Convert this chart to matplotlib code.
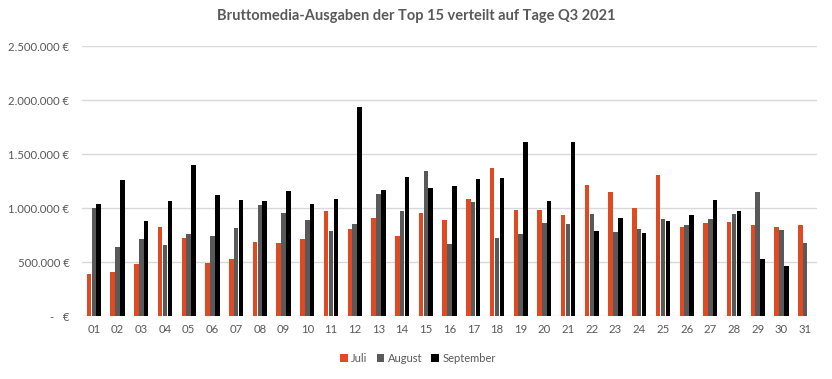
import matplotlib
matplotlib.use('Agg')
import matplotlib.pyplot as plt
import numpy as np

# Tage 01..31
days = [f"{d:02d}" for d in range(1, 32)]

juli = [386, 404, 478, 821, 719, 488, 525, 682, 673, 710,
        969, 802, 904, 738, 951, 886, 1080, 1367, 978, 978,
        932, 1210, 1145, 997, 1302, 821, 858, 867, 840, 821, 840]
august = [997, 636, 710, 654, 756, 738, 812, 1025, 951, 886,
          784, 849, 1127, 969, 1340, 664, 1052, 719, 756, 858,
          849, 941, 775, 802, 895, 840, 895, 941, 1145, 793, 673]
september = [1034, 1256, 877, 1062, 1395, 1117, 1071, 1062, 1154, 1034,
             1080, 1932, 1164, 1284, 1182, 1201, 1265, 1275, 1608, 1062,
             1608, 784, 904, 765, 877, 932, 1071, 969, 525, 460, 0]

series = [("Juli", juli, "#E04A23"),
          ("August", august, "#595959"),
          ("September", september, "#000000")]

plt.rcParams['font.family'] = ['Lato', 'DejaVu Sans']
TXT = "#595959"

fig = plt.figure(figsize=(8.32, 3.79), dpi=100)
ax = fig.add_axes([0.0986, 0.1662, 0.8834, 0.7124])

x = np.arange(len(days))
w = 0.19
for i, (name, vals, col) in enumerate(series):
    ax.bar(x + (i - 1) * 0.205, np.array(vals) * 1000, width=w, color=col, label=name, zorder=3)

ax.set_xlim(-0.5, len(days) - 0.5)
ax.set_ylim(0, 2500000)
yt = np.arange(0, 2500001, 500000)
ax.set_yticks(yt)
ax.set_yticklabels(["-   €"] + [f"{v:,.0f} €".replace(",", ".") for v in yt[1:]])
ax.set_xticks(x)
ax.set_xticklabels(days)
ax.tick_params(length=0, labelsize=8.2, colors=TXT)
ax.tick_params(axis='y', pad=9)
ax.tick_params(axis='x', pad=6)
ax.grid(axis='y', color='#D9D9D9', linewidth=1, zorder=0)
for s in ax.spines.values():
    s.set_visible(False)

fig.suptitle("Bruttomedia-Ausgaben der Top 15 verteilt auf Tage Q3 2021",
             x=0.5, y=0.975, fontsize=10.5, fontweight='bold', color=TXT)

ax.legend(loc='upper center', bbox_to_anchor=(0.457, -0.1), ncol=3, frameon=False,
          fontsize=8, labelcolor=TXT, handlelength=0.7, handleheight=0.7,
          handletextpad=0.3, columnspacing=0.8)

plt.savefig("out.png", dpi=100)
